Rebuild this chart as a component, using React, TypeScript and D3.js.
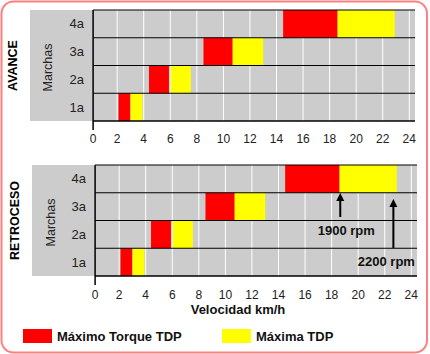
import React from "react";
import * as d3 from "d3";

const gears = ["1a", "2a", "3a", "4a"];
const torqueStart = [2.1, 4.4, 8.5, 14.5];
const torqueEnd = [3.0, 5.9, 10.7, 18.6];
const maxStart = [3.0, 6.05, 10.7, 18.6];
const maxEnd = [3.9, 7.55, 13.0, 22.9];
const xTicks = [0, 2, 4, 6, 8, 10, 12, 14, 16, 18, 20, 22, 24];
const rpmLabels = ["1900 rpm", "2200 rpm"];
const rpmSpeeds = [18.65, 22.65];

const FONT = "'Liberation Sans', Arial, sans-serif";
const RED = "#ff0000";
const YELLOW = "#ffff00";
const GRAY = "#cccccc";

interface PanelProps {
  title: string;
  dx: number;
  top: number;
  tickY: number;
  arrows?: boolean;
}

const Panel: React.FC<PanelProps> = ({ title, dx, top, tickY, arrows }) => {
  const bottom = top + 111;
  const x = d3.scaleLinear().domain([0, 24]).range([90.6 + dx, 409.3 + dx]);
  const y = d3.scaleBand<string>().domain([...gears].reverse()).range([top, bottom]);
  const axisX = x(0) + 2.5;
  const right = 415 + dx;
  const bands = gears.map((g, i) => ({ g, ts: torqueStart[i], te: torqueEnd[i], ms: maxStart[i], me: maxEnd[i] }));
  const mid = (top + bottom) / 2;

  return (
    <g>
      <rect x={30 + dx} y={top} width={right - 30 - dx} height={bottom - top} fill={GRAY} />
      {xTicks.slice(1).map((t) => (
        <line key={t} x1={x(t)} x2={x(t)} y1={top} y2={bottom} stroke="#fff" strokeWidth={1} />
      ))}
      {bands.map((b) => (
        <g key={b.g}>
          <rect x={x(b.ts)} y={y(b.g)!} width={x(b.te) - x(b.ts)} height={y.bandwidth()} fill={RED} />
          <rect x={x(b.ms)} y={y(b.g)!} width={x(b.me) - x(b.ms)} height={y.bandwidth()} fill={YELLOW} />
          <text x={84 + dx} y={y(b.g)! + y.bandwidth() / 2} dy="0.35em" textAnchor="end" fontSize={13} fill="#222" fontFamily={FONT}>
            {b.g}
          </text>
        </g>
      ))}
      {y.domain().map((g) => (
        <line key={g} x1={axisX} x2={right} y1={y(g)!} y2={y(g)!} stroke="#000" strokeWidth={1.2} />
      ))}
      <line x1={axisX} x2={right} y1={bottom} y2={bottom} stroke="#000" strokeWidth={1.5} />
      <line x1={axisX} x2={axisX} y1={top} y2={bottom + 9} stroke="#000" strokeWidth={1.5} />
      {xTicks.map((t) => (
        <text key={t} x={t === 0 ? axisX : x(t)} y={tickY} textAnchor="middle" fontSize={12} fill="#222" fontFamily={FONT}>
          {t}
        </text>
      ))}
      <text transform={`translate(${48 + dx * 1.2},${mid + 2}) rotate(-90)`} dy="0.35em" textAnchor="middle" fontSize={12.5} fill="#222" fontFamily={FONT}>
        Marchas
      </text>
      <text transform={`translate(${13 + dx},${mid}) rotate(-90)`} dy="0.35em" textAnchor="middle" fontSize={12.5} fontWeight="bold" fill="#000" fontFamily={FONT}>
        {title}
      </text>
      {arrows &&
        rpmSpeeds.map((s, i) => {
          const ax = x(s);
          const tipY = i === 0 ? top + 28 : top + 34;
          const endY = i === 0 ? top + 52 : top + 83;
          const textY = i === 0 ? top + 69.5 : top + 100.5;
          const textX = i === 0 ? ax + 6 : ax - 7;
          return (
            <g key={rpmLabels[i]}>
              <line x1={ax} x2={ax} y1={tipY + 6} y2={endY} stroke="#000" strokeWidth={2} />
              <path d={`M${ax},${tipY} L${ax - 4},${tipY + 8} L${ax + 4},${tipY + 8} Z`} fill="#000" />
              <text x={textX} y={textY} textAnchor="middle" fontSize={13} fontWeight="bold" fill="#111" fontFamily={FONT}>
                {rpmLabels[i]}
              </text>
            </g>
          );
        })}
    </g>
  );
};

const App: React.FC = () => {
  return (
    <svg width={430} height={354} style={{ position: "absolute", left: 0, top: 0 }}>
      <rect x={0} y={0} width={430} height={354} fill="#fff" />
      <rect x={1.5} y={1.5} width={425.5} height={351} rx={12} fill="#fff" stroke="#ff8080" strokeWidth={2} />
      <Panel title="AVANCE" dx={0} top={10} tickY={142.5} />
      <Panel title="RETROCESO" dx={2} top={165} tickY={299} arrows />
      <text x={238} y={314} textAnchor="middle" fontSize={13} fontWeight="bold" fill="#111" fontFamily={FONT}>
        Velocidad km/h
      </text>
      <rect x={23} y={329} width={29} height={14} fill={RED} />
      <text x={57} y={341} fontSize={13} fontWeight="bold" fill="#111" fontFamily={FONT}>
        Máximo Torque TDP
      </text>
      <rect x={222} y={329} width={29} height={14} fill={YELLOW} />
      <text x={256} y={341} fontSize={13} fontWeight="bold" fill="#111" fontFamily={FONT}>
        Máxima TDP
      </text>
    </svg>
  );
};

export default App;
